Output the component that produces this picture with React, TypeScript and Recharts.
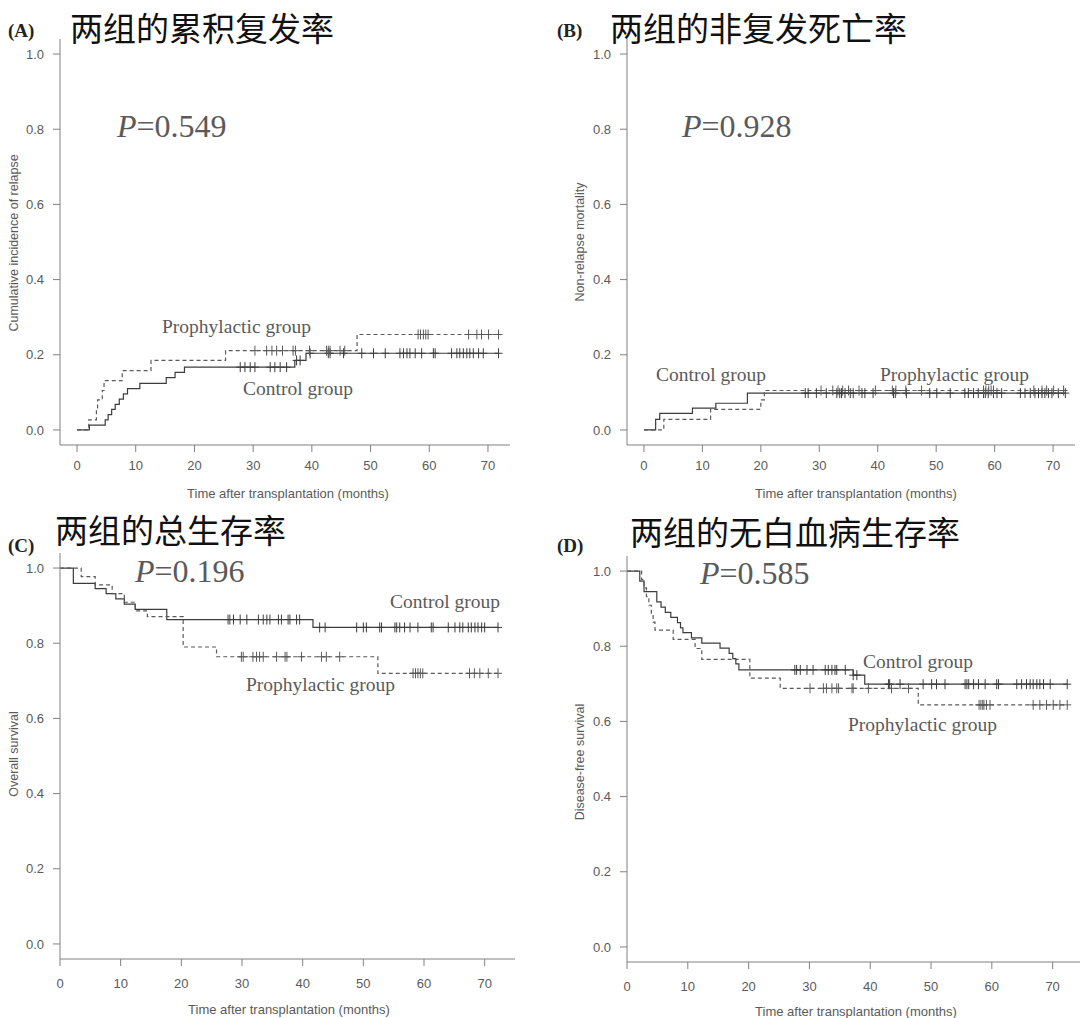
import React from 'react';
import { LineChart, Line, XAxis, YAxis } from 'recharts';

type Step = [number, number];
interface Pt {
  t: number;
  v: number;
  c: boolean;
}

const xTicks = [0, 10, 20, 30, 40, 50, 60, 70];
const yTicks = [0, 0.2, 0.4, 0.6, 0.8, 1.0];

// (A) cumulative incidence of relapse
const aCtrlSteps: Step[] = [
  [0, 0], [2.1, 0.013], [4.8, 0.027], [5.3, 0.041], [5.9, 0.055], [6.5, 0.068],
  [7.2, 0.082], [7.9, 0.096], [8.6, 0.11], [10.7, 0.124], [15.2, 0.139],
  [16.7, 0.153], [18.3, 0.167], [37.1, 0.185], [39.0, 0.204],
];
const aCtrlCensor = [
  27.8, 28.6, 29.5, 30.3, 32.9, 33.7, 34.6, 35.7, 37.4, 38.0, 39.7, 42.8, 43.1,
  45.4, 48.5, 50.5, 52.5, 55.0, 55.6, 56.2, 56.7, 57.6, 58.7, 60.7, 61.0, 63.8,
  64.7, 65.2, 65.8, 66.4, 66.9, 67.5, 68.4, 69.2, 71.8,
];
const aProSteps: Step[] = [
  [0, 0], [2.0, 0.027], [3.3, 0.054], [3.5, 0.08], [4.3, 0.105], [4.6, 0.131],
  [7.7, 0.158], [12.6, 0.185], [25.3, 0.211], [47.7, 0.254],
];
const aProCensor = [
  30.3, 32.3, 33.2, 34.0, 35.0, 36.8, 37.2, 39.6, 42.5, 42.8, 43.1, 44.8, 45.6,
  58.1, 58.5, 59.0, 59.4, 59.8, 66.7, 68.1, 68.9, 70.1, 71.8,
];

// (B) non-relapse mortality
const bCtrlSteps: Step[] = [
  [0, 0], [2.0, 0.028], [2.7, 0.044], [8.3, 0.058], [12.3, 0.071], [17.7, 0.098],
];
const bCtrlCensor = [
  27.6, 28.1, 29.5, 31.2, 33.0, 33.5, 33.8, 34.4, 35.3, 35.8, 37.3, 37.8, 39.2,
  42.7, 43.0, 44.9, 48.9, 50.1, 52.4, 54.9, 55.5, 56.4, 57.2, 58.1, 58.4, 58.9,
  59.8, 60.4, 61.2, 64.4, 65.2, 66.1, 66.9, 67.5, 68.1, 68.6, 69.2, 69.8, 70.9,
  72.1,
];
const bProSteps: Step[] = [
  [0, 0], [3.4, 0.028], [11.4, 0.055], [20.0, 0.08], [20.6, 0.105],
];
const bProCensor = [
  30.3, 32.3, 33.2, 34.0, 35.0, 36.8, 39.6, 42.5, 43.1, 44.8, 47.5, 58.1, 58.5,
  59.0, 59.4, 59.8, 66.7, 68.1, 68.9, 70.1, 71.8,
];

// (C) overall survival
const cCtrlSteps: Step[] = [
  [0, 1], [2.2, 0.959], [5.8, 0.945], [7.6, 0.932], [9.2, 0.918], [10.6, 0.904],
  [12.4, 0.89], [17.6, 0.863], [41.7, 0.842],
];
const cCtrlCensor = [
  27.7, 28.0, 28.6, 29.7, 30.8, 32.7, 33.5, 34.1, 34.6, 36.0, 36.5, 37.6, 37.9,
  39.0, 39.5, 42.8, 43.7, 48.9, 50.0, 50.5, 52.7, 53.0, 55.2, 55.5, 56.0, 56.8,
  57.7, 59.0, 61.2, 61.5, 64.0, 65.1, 65.9, 66.4, 67.3, 67.8, 68.4, 68.9, 69.5,
  70.0, 72.2,
];
const cProSteps: Step[] = [
  [0, 1], [3.5, 0.977], [5.8, 0.955], [8.6, 0.932], [10.6, 0.909], [12.4, 0.886],
  [14.4, 0.871], [20.3, 0.79], [25.8, 0.764], [52.4, 0.72],
];
const cProCensor = [
  29.9, 30.2, 31.8, 32.4, 32.9, 33.5, 35.7, 37.1, 37.4, 39.8, 43.1, 43.9, 46.1,
  58.2, 58.6, 59.0, 59.4, 59.8, 67.5, 68.3, 69.2, 70.6, 72.2,
];

// (D) disease-free survival
const dCtrlSteps: Step[] = [
  [0, 1], [2.1, 0.973], [2.8, 0.945], [4.9, 0.918], [5.6, 0.904], [6.3, 0.89],
  [7.2, 0.877], [8.3, 0.863], [8.8, 0.849], [9.2, 0.836], [10.6, 0.822],
  [12.3, 0.808], [15.3, 0.795], [16.8, 0.781], [17.4, 0.767], [17.9, 0.753],
  [18.4, 0.737], [37.2, 0.723], [39.1, 0.699],
];
const dCtrlCensor = [
  27.6, 27.9, 28.5, 29.6, 30.6, 32.6, 33.1, 33.7, 34.2, 34.5, 35.9, 37.2, 37.8,
  43.0, 43.2, 44.9, 48.7, 50.1, 50.9, 52.3, 55.6, 55.9, 56.2, 57.0, 57.8, 58.9,
  60.8, 61.1, 64.1, 64.9, 65.7, 66.3, 66.8, 67.4, 67.9, 68.5, 69.6, 72.4,
];
const dProSteps: Step[] = [
  [0, 1], [2.4, 0.977], [2.8, 0.955], [3.2, 0.932], [3.6, 0.909], [4.0, 0.886],
  [4.3, 0.864], [4.6, 0.843], [7.6, 0.818], [11.2, 0.794], [12.3, 0.765],
  [20.2, 0.715], [25.2, 0.688], [47.9, 0.644],
];
const dProCensor = [
  30.1, 32.3, 32.8, 33.7, 34.5, 34.8, 37.0, 37.2, 39.7, 43.5, 46.3, 57.9, 58.2,
  58.5, 58.7, 59.1, 59.7, 66.8, 67.9, 69.0, 70.1, 71.2, 72.4,
];

// merge step points with censoring times (value = current step level)
function buildSeries(steps: Step[], censor: number[]): Pt[] {
  const pts: Pt[] = steps.map(([t, v]) => ({ t, v, c: false }));
  censor.forEach((t) => {
    let v = steps[0][1];
    steps.forEach(([st, sv]) => {
      if (st <= t) v = sv;
    });
    pts.push({ t, v, c: true });
  });
  return pts.sort((a, b) => a.t - b.t || Number(a.c) - Number(b.c));
}

const SANS = '"Liberation Sans", Arial, sans-serif';
const SERIF = '"Liberation Serif", "Times New Roman", serif';
const CJK = '"Noto Sans CJK SC", sans-serif';
const AXIS = '#808080';
const TEXT = '#5a5a5a';
const SOLID = '#3c3c3c';
const DASH = '#5a5a5a';

const censorDot = (color: string) => (props: any) => {
  const { cx, cy, payload, index } = props;
  if (!payload || !payload.c || cx == null || cy == null) return <g key={`n${index}`} />;
  return (
    <g key={`c${index}`} stroke={color} strokeWidth={1} strokeDasharray="none">
      <line x1={cx} x2={cx} y1={cy - 5} y2={cy + 5} />
      <line x1={cx - 4} x2={cx + 4} y1={cy} y2={cy} />
    </g>
  );
};

interface PanelProps {
  left: number;
  top: number;
  width: number;
  height: number;
  xDomain: [number, number];
  ctrl: Pt[];
  pro: Pt[];
  tickGap: number;
}

function Panel({ left, top, width, height, xDomain, ctrl, pro, tickGap }: PanelProps) {
  const yW = 60;
  const mt = 10;
  const xH = 40;
  return (
    <div style={{ position: 'absolute', left: left - yW, top: top - mt }}>
      <LineChart
        width={width + yW + 5}
        height={height + mt + xH}
        margin={{ top: mt, right: 5, left: 0, bottom: 0 }}
      >
        <XAxis
          type="number"
          dataKey="t"
          domain={xDomain}
          ticks={xTicks}
          interval={0}
          allowDataOverflow
          height={xH}
          tickSize={7}
          tickMargin={tickGap}
          stroke={AXIS}
          tick={{ fill: TEXT, fontSize: 13, fontFamily: SANS }}
        />
        <YAxis
          type="number"
          domain={[-0.04, 1.04]}
          ticks={yTicks}
          interval={0}
          allowDataOverflow
          width={yW}
          tickSize={7}
          tickMargin={9}
          stroke={AXIS}
          tickFormatter={(v: number) => v.toFixed(1)}
          tick={{ fill: TEXT, fontSize: 13, fontFamily: SANS }}
        />
        <Line
          data={ctrl}
          dataKey="v"
          type="stepAfter"
          stroke={SOLID}
          strokeWidth={1.2}
          dot={censorDot(SOLID)}
          activeDot={false}
          isAnimationActive={false}
        />
        <Line
          data={pro}
          dataKey="v"
          type="stepAfter"
          stroke={DASH}
          strokeWidth={1.2}
          strokeDasharray="4 3"
          dot={censorDot(DASH)}
          activeDot={false}
          isAnimationActive={false}
        />
      </LineChart>
    </div>
  );
}

function PVal({ x, y, value }: { x: number; y: number; value: string }) {
  return (
    <text x={x} y={y} fontFamily={SERIF} fontSize={32} fill={TEXT}>
      <tspan fontStyle="italic">P</tspan>={value}
    </text>
  );
}

function Group({ x, y, label }: { x: number; y: number; label: string }) {
  return (
    <text x={x} y={y} fontFamily={SERIF} fontSize={19.5} fill={TEXT}>
      {label}
    </text>
  );
}

function YLab({ x, y, label }: { x: number; y: number; label: string }) {
  return (
    <text
      x={x}
      y={y}
      transform={`rotate(-90 ${x} ${y})`}
      textAnchor="middle"
      fontFamily={SANS}
      fontSize={12.5}
      fill={TEXT}
    >
      {label}
    </text>
  );
}

function XLab({ x, y }: { x: number; y: number }) {
  return (
    <text x={x} y={y} textAnchor="middle" fontFamily={SANS} fontSize={13} fill={TEXT}>
      Time after transplantation (months)
    </text>
  );
}

function Title({ x, y, tag, tx, ty, label }: { x: number; y: number; tag: string; tx: number; ty: number; label: string }) {
  return (
    <g>
      <text x={x} y={y} fontFamily={SERIF} fontWeight="bold" fontSize={19} fill="#222">
        {tag}
      </text>
      <text x={tx} y={ty} fontFamily={CJK} fontWeight={400} fontSize={33} fill="#111">
        {label}
      </text>
    </g>
  );
}

export default function App() {
  return (
    <div
      style={{
        position: 'fixed',
        left: 0,
        top: 0,
        width: 1080,
        height: 1018,
        overflow: 'hidden',
        background: '#fff',
      }}
    >
      <Panel left={60} top={39} width={450} height={406} xDomain={[-2.9, 73.75]}
        ctrl={buildSeries(aCtrlSteps, aCtrlCensor)} pro={buildSeries(aProSteps, aProCensor)} tickGap={9} />
      <Panel left={627} top={39} width={448} height={406} xDomain={[-2.9, 73.75]}
        ctrl={buildSeries(bCtrlSteps, bCtrlCensor)} pro={buildSeries(bProSteps, bProCensor)} tickGap={9} />
      <Panel left={60} top={553} width={455} height={406} xDomain={[0, 75]}
        ctrl={buildSeries(cCtrlSteps, cCtrlCensor)} pro={buildSeries(cProSteps, cProCensor)} tickGap={13} />
      <Panel left={627} top={556} width={453} height={406} xDomain={[0, 74.5]}
        ctrl={buildSeries(dCtrlSteps, dCtrlCensor)} pro={buildSeries(dProSteps, dProCensor)} tickGap={13} />

      <svg
        width={1080}
        height={1018}
        style={{ position: 'absolute', left: 0, top: 0, pointerEvents: 'none' }}
      >
        <Title x={8} y={37} tag="(A)" tx={70} ty={40.5} label="两组的累积复发率" />
        <Title x={557} y={37} tag="(B)" tx={610} ty={40.5} label="两组的非复发死亡率" />
        <Title x={8} y={552} tag="(C)" tx={55} ty={542.5} label="两组的总生存率" />
        <Title x={557} y={552} tag="(D)" tx={630} ty={544.5} label="两组的无白血病生存率" />

        <PVal x={117} y={137} value="0.549" />
        <PVal x={682} y={137} value="0.928" />
        <PVal x={135} y={582} value="0.196" />
        <PVal x={700} y={584} value="0.585" />

        <Group x={162} y={333} label="Prophylactic group" />
        <Group x={243} y={395} label="Control group" />
        <Group x={656} y={381} label="Control group" />
        <Group x={880} y={381} label="Prophylactic group" />
        <Group x={390} y={608} label="Control group" />
        <Group x={246} y={691} label="Prophylactic group" />
        <Group x={863} y={668} label="Control group" />
        <Group x={848} y={731} label="Prophylactic group" />

        <YLab x={18} y={243} label="Cumulative incidence of relapse" />
        <YLab x={584} y={242} label="Non-relapse mortality" />
        <YLab x={18} y={754} label="Overall survival" />
        <YLab x={584} y={762} label="Disease-free survival" />

        <XLab x={288} y={498} />
        <XLab x={856} y={498} />
        <XLab x={289} y={1014} />
        <XLab x={856} y={1016} />
      </svg>
    </div>
  );
}
